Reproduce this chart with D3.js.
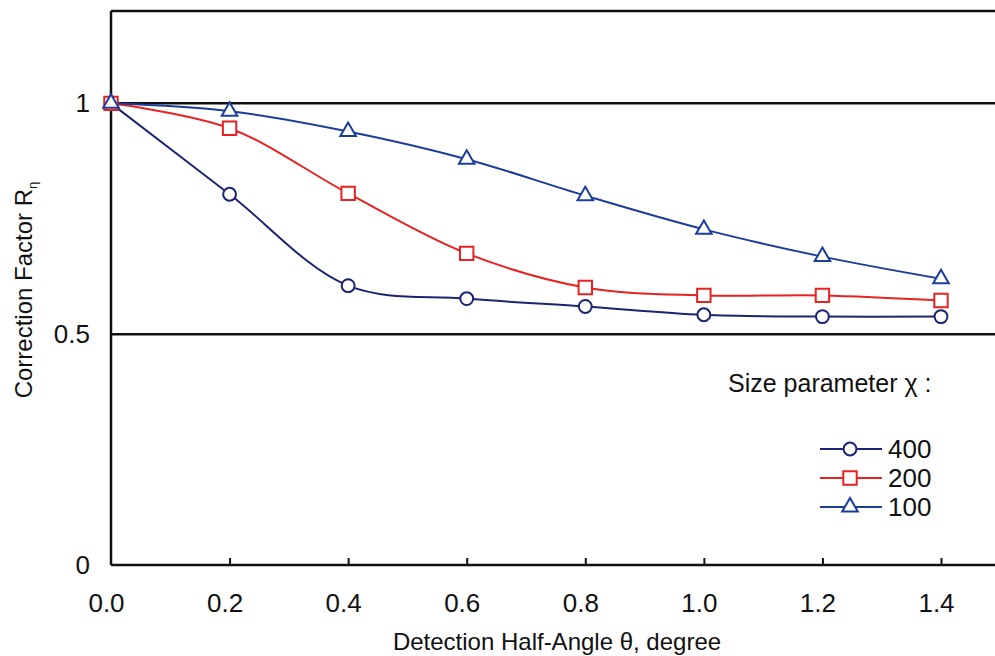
<!DOCTYPE html>
<html>
<head>
<meta charset="utf-8">
<script src="https://cdn.jsdelivr.net/npm/d3@7"></script>
<style>
  html, body { margin: 0; padding: 0; background: #fff; }
  svg { display: block; }
  text { font-family: "Liberation Sans", Arial, sans-serif; fill: #111; }
</style>
</head>
<body>
<svg id="chart" width="995" height="656"></svg>
<script>
// Detection half-angle θ (degree)
const angles = [0.0, 0.2, 0.4, 0.6, 0.8, 1.0, 1.2, 1.4];
// Correction factor for each size parameter χ
const chi400 = [1.0, 0.803, 0.605, 0.577, 0.560, 0.542, 0.538, 0.538];
const chi200 = [1.0, 0.946, 0.805, 0.675, 0.601, 0.584, 0.584, 0.573];
const chi100 = [1.0, 0.983, 0.939, 0.879, 0.800, 0.727, 0.668, 0.620];
const seriesNames = ["400", "200", "100"];
const xTicks = [0.0, 0.2, 0.4, 0.6, 0.8, 1.0, 1.2, 1.4];
const yTicks = [0, 0.5, 1];

const series = [
  { name: seriesNames[0], values: chi400, color: "#1b2472", symbol: d3.symbolCircle, size: 130 },
  { name: seriesNames[1], values: chi200, color: "#e62222", symbol: d3.symbolSquare, size: 180 },
  { name: seriesNames[2], values: chi100, color: "#1c3c9c", symbol: d3.symbolTriangle, size: 105 }
];

const svg = d3.select("#chart");
const plotLeft = 111, plotTop = 11, plotBottom = 565;

const x = d3.scaleLinear().domain([0, 1.4]).range([plotLeft, 941]);
const y = d3.scaleLinear().domain([0, 1.2]).range([plotBottom, plotTop]);
const rightEdge = 995;

// frame: top border, left and bottom axes
const frame = svg.append("g").attr("stroke", "#111").attr("stroke-width", 2.5);
frame.append("line").attr("x1", plotLeft).attr("x2", rightEdge).attr("y1", plotTop).attr("y2", plotTop);
frame.append("line").attr("x1", plotLeft).attr("x2", plotLeft).attr("y1", plotTop).attr("y2", plotBottom);
frame.append("line").attr("x1", plotLeft).attr("x2", rightEdge).attr("y1", plotBottom).attr("y2", plotBottom);

// horizontal reference lines at 0.5 and 1
svg.append("g").selectAll("line")
  .data(yTicks.filter(v => v > 0))
  .join("line")
  .attr("x1", plotLeft).attr("x2", rightEdge)
  .attr("y1", d => y(d)).attr("y2", d => y(d))
  .attr("stroke", "#111").attr("stroke-width", 2.5);

// x axis: inward ticks and labels
const xAxis = d3.axisBottom(x).tickValues(xTicks).tickSize(-7).tickPadding(0)
  .tickFormat(d3.format(".1f"));
const gx = svg.append("g").attr("transform", `translate(0,${plotBottom})`).call(xAxis);
gx.select(".domain").remove();
gx.selectAll(".tick line").attr("stroke", "#111").attr("stroke-width", 2)
  .filter(d => d === 0).remove();
gx.selectAll(".tick text")
  .attr("font-size", 26).attr("fill", "#111")
  .attr("font-family", "Liberation Sans, Arial, sans-serif")
  .attr("x", -5).attr("y", 47).attr("dy", null);

// y axis labels
const yAxis = d3.axisLeft(y).tickValues(yTicks).tickSize(0).tickPadding(21)
  .tickFormat(d => d === 0 ? "0" : d === 1 ? "1" : "0.5");
const gy = svg.append("g").attr("transform", `translate(${plotLeft},0)`).call(yAxis);
gy.select(".domain").remove();
gy.selectAll(".tick text").attr("font-size", 26).attr("fill", "#111")
  .attr("font-family", "Liberation Sans, Arial, sans-serif");

// axis titles
svg.append("text")
  .attr("x", 557).attr("y", 650)
  .attr("text-anchor", "middle").attr("font-size", 24)
  .text("Detection Half-Angle θ, degree");

const yt = svg.append("text")
  .attr("transform", "translate(32,290) rotate(-90)")
  .attr("text-anchor", "middle").attr("font-size", 24);
yt.append("tspan").text("Correction Factor R");
yt.append("tspan").attr("font-size", 13).attr("dy", 5).text("η");

// smoothed curves with markers
const line = d3.line()
  .x((d, i) => x(angles[i]))
  .y(d => y(d))
  .curve(d3.curveCatmullRom.alpha(0.5));

const plot = svg.append("g");
series.forEach(s => {
  plot.append("path")
    .attr("d", line(s.values))
    .attr("fill", "none")
    .attr("stroke", s.color)
    .attr("stroke-width", 2);
});
series.forEach(s => {
  plot.append("g").selectAll("path")
    .data(s.values)
    .join("path")
    .attr("d", d3.symbol().type(s.symbol).size(s.size))
    .attr("transform", (d, i) => `translate(${x(angles[i])},${y(d)})`)
    .attr("fill", "#fff")
    .attr("stroke", s.color)
    .attr("stroke-width", 2);
});

// legend
const legend = svg.append("g");
legend.append("text")
  .attr("x", 728).attr("y", 392)
  .attr("font-size", 25)
  .text("Size parameter χ :");

const rows = legend.selectAll("g.row")
  .data(series)
  .join("g")
  .attr("class", "row")
  .attr("transform", (d, i) => `translate(0,${449 + i * 29})`);
rows.append("line")
  .attr("x1", 820).attr("x2", 882).attr("y1", 0).attr("y2", 0)
  .attr("stroke", d => d.color).attr("stroke-width", 2);
rows.append("path")
  .attr("d", d => d3.symbol().type(d.symbol).size(d.size)())
  .attr("transform", "translate(850,0)")
  .attr("fill", "#fff")
  .attr("stroke", d => d.color).attr("stroke-width", 2);
rows.append("text")
  .attr("x", 888).attr("y", 0).attr("dy", "0.36em")
  .attr("font-size", 26)
  .text(d => d.name);
</script>
</body>
</html>
